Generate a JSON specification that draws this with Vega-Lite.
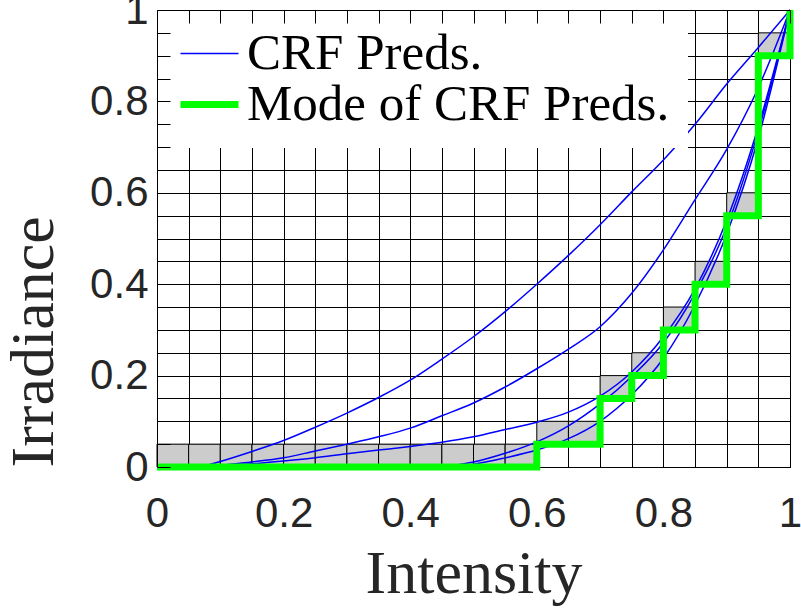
{
  "$schema": "https://vega.github.io/schema/vega-lite/v6.json",
  "width": 633,
  "height": 457,
  "autosize": {"type": "none"},
  "padding": {"left": 157, "top": 10, "right": 11, "bottom": 145},
  "background": "white",
  "config": {"view": {"stroke": null}},
  "datasets": {
    "cells": [
      {"x0": 0, "x1": 0.05, "y0": 0, "y1": 0.05},
      {"x0": 0.05, "x1": 0.1, "y0": 0, "y1": 0.05},
      {"x0": 0.1, "x1": 0.15, "y0": 0, "y1": 0.05},
      {"x0": 0.15, "x1": 0.2, "y0": 0, "y1": 0.05},
      {"x0": 0.2, "x1": 0.25, "y0": 0, "y1": 0.05},
      {"x0": 0.25, "x1": 0.3, "y0": 0, "y1": 0.05},
      {"x0": 0.3, "x1": 0.35, "y0": 0, "y1": 0.05},
      {"x0": 0.35, "x1": 0.4, "y0": 0, "y1": 0.05},
      {"x0": 0.4, "x1": 0.45, "y0": 0, "y1": 0.05},
      {"x0": 0.45, "x1": 0.5, "y0": 0, "y1": 0.05},
      {"x0": 0.5, "x1": 0.55, "y0": 0, "y1": 0.05},
      {"x0": 0.55, "x1": 0.6, "y0": 0, "y1": 0.05},
      {"x0": 0.6, "x1": 0.65, "y0": 0.05, "y1": 0.1},
      {"x0": 0.65, "x1": 0.7, "y0": 0.05, "y1": 0.1},
      {"x0": 0.7, "x1": 0.75, "y0": 0.15, "y1": 0.2},
      {"x0": 0.75, "x1": 0.8, "y0": 0.2, "y1": 0.25},
      {"x0": 0.8, "x1": 0.85, "y0": 0.3, "y1": 0.35},
      {"x0": 0.85, "x1": 0.9, "y0": 0.4, "y1": 0.45},
      {"x0": 0.9, "x1": 0.95, "y0": 0.55, "y1": 0.6},
      {"x0": 0.95, "x1": 1, "y0": 0.9, "y1": 0.95}
    ],
    "curves": [
      {"curve": "a", "series": "CRF Preds.", "x": 0.07, "y": 0},
      {"curve": "a", "series": "CRF Preds.", "x": 0.1, "y": 0.012},
      {"curve": "a", "series": "CRF Preds.", "x": 0.15, "y": 0.034},
      {"curve": "a", "series": "CRF Preds.", "x": 0.2, "y": 0.058},
      {"curve": "a", "series": "CRF Preds.", "x": 0.25, "y": 0.087},
      {"curve": "a", "series": "CRF Preds.", "x": 0.3, "y": 0.118},
      {"curve": "a", "series": "CRF Preds.", "x": 0.35, "y": 0.152},
      {"curve": "a", "series": "CRF Preds.", "x": 0.4, "y": 0.19},
      {"curve": "a", "series": "CRF Preds.", "x": 0.45, "y": 0.236},
      {"curve": "a", "series": "CRF Preds.", "x": 0.5, "y": 0.285},
      {"curve": "a", "series": "CRF Preds.", "x": 0.55, "y": 0.34},
      {"curve": "a", "series": "CRF Preds.", "x": 0.6, "y": 0.4},
      {"curve": "a", "series": "CRF Preds.", "x": 0.65, "y": 0.463},
      {"curve": "a", "series": "CRF Preds.", "x": 0.7, "y": 0.53},
      {"curve": "a", "series": "CRF Preds.", "x": 0.75, "y": 0.602},
      {"curve": "a", "series": "CRF Preds.", "x": 0.8, "y": 0.672},
      {"curve": "a", "series": "CRF Preds.", "x": 0.85, "y": 0.75},
      {"curve": "a", "series": "CRF Preds.", "x": 0.9, "y": 0.838},
      {"curve": "a", "series": "CRF Preds.", "x": 0.95, "y": 0.918},
      {"curve": "a", "series": "CRF Preds.", "x": 1, "y": 1},
      {"curve": "b", "series": "CRF Preds.", "x": 0.07, "y": 0},
      {"curve": "b", "series": "CRF Preds.", "x": 0.1, "y": 0.004},
      {"curve": "b", "series": "CRF Preds.", "x": 0.15, "y": 0.011},
      {"curve": "b", "series": "CRF Preds.", "x": 0.2, "y": 0.02},
      {"curve": "b", "series": "CRF Preds.", "x": 0.25, "y": 0.035},
      {"curve": "b", "series": "CRF Preds.", "x": 0.3, "y": 0.05},
      {"curve": "b", "series": "CRF Preds.", "x": 0.35, "y": 0.066},
      {"curve": "b", "series": "CRF Preds.", "x": 0.4, "y": 0.085},
      {"curve": "b", "series": "CRF Preds.", "x": 0.45, "y": 0.112},
      {"curve": "b", "series": "CRF Preds.", "x": 0.5, "y": 0.14},
      {"curve": "b", "series": "CRF Preds.", "x": 0.55, "y": 0.175},
      {"curve": "b", "series": "CRF Preds.", "x": 0.6, "y": 0.215},
      {"curve": "b", "series": "CRF Preds.", "x": 0.65, "y": 0.258},
      {"curve": "b", "series": "CRF Preds.", "x": 0.7, "y": 0.307},
      {"curve": "b", "series": "CRF Preds.", "x": 0.75, "y": 0.38},
      {"curve": "b", "series": "CRF Preds.", "x": 0.8, "y": 0.475},
      {"curve": "b", "series": "CRF Preds.", "x": 0.85, "y": 0.585},
      {"curve": "b", "series": "CRF Preds.", "x": 0.9, "y": 0.695},
      {"curve": "b", "series": "CRF Preds.", "x": 0.95, "y": 0.83},
      {"curve": "b", "series": "CRF Preds.", "x": 1, "y": 1},
      {"curve": "c", "series": "CRF Preds.", "x": 0.07, "y": 0},
      {"curve": "c", "series": "CRF Preds.", "x": 0.1, "y": 0.003},
      {"curve": "c", "series": "CRF Preds.", "x": 0.15, "y": 0.007},
      {"curve": "c", "series": "CRF Preds.", "x": 0.2, "y": 0.013},
      {"curve": "c", "series": "CRF Preds.", "x": 0.25, "y": 0.02},
      {"curve": "c", "series": "CRF Preds.", "x": 0.3, "y": 0.029},
      {"curve": "c", "series": "CRF Preds.", "x": 0.35, "y": 0.037},
      {"curve": "c", "series": "CRF Preds.", "x": 0.4, "y": 0.045},
      {"curve": "c", "series": "CRF Preds.", "x": 0.45, "y": 0.054},
      {"curve": "c", "series": "CRF Preds.", "x": 0.5, "y": 0.066},
      {"curve": "c", "series": "CRF Preds.", "x": 0.55, "y": 0.082},
      {"curve": "c", "series": "CRF Preds.", "x": 0.6, "y": 0.098},
      {"curve": "c", "series": "CRF Preds.", "x": 0.65, "y": 0.12},
      {"curve": "c", "series": "CRF Preds.", "x": 0.7, "y": 0.155},
      {"curve": "c", "series": "CRF Preds.", "x": 0.75, "y": 0.208},
      {"curve": "c", "series": "CRF Preds.", "x": 0.8, "y": 0.285},
      {"curve": "c", "series": "CRF Preds.", "x": 0.85, "y": 0.39},
      {"curve": "c", "series": "CRF Preds.", "x": 0.9, "y": 0.54},
      {"curve": "c", "series": "CRF Preds.", "x": 0.95, "y": 0.745},
      {"curve": "c", "series": "CRF Preds.", "x": 1, "y": 1},
      {"curve": "d", "series": "CRF Preds.", "x": 0.44, "y": 0},
      {"curve": "d", "series": "CRF Preds.", "x": 0.47, "y": 0.004},
      {"curve": "d", "series": "CRF Preds.", "x": 0.5, "y": 0.011},
      {"curve": "d", "series": "CRF Preds.", "x": 0.55, "y": 0.03},
      {"curve": "d", "series": "CRF Preds.", "x": 0.6, "y": 0.055},
      {"curve": "d", "series": "CRF Preds.", "x": 0.65, "y": 0.09},
      {"curve": "d", "series": "CRF Preds.", "x": 0.7, "y": 0.138},
      {"curve": "d", "series": "CRF Preds.", "x": 0.75, "y": 0.198},
      {"curve": "d", "series": "CRF Preds.", "x": 0.8, "y": 0.272},
      {"curve": "d", "series": "CRF Preds.", "x": 0.85, "y": 0.38},
      {"curve": "d", "series": "CRF Preds.", "x": 0.9, "y": 0.525},
      {"curve": "d", "series": "CRF Preds.", "x": 0.95, "y": 0.735},
      {"curve": "d", "series": "CRF Preds.", "x": 1, "y": 1},
      {"curve": "e", "series": "CRF Preds.", "x": 0.46, "y": 0},
      {"curve": "e", "series": "CRF Preds.", "x": 0.5, "y": 0.006},
      {"curve": "e", "series": "CRF Preds.", "x": 0.55, "y": 0.02},
      {"curve": "e", "series": "CRF Preds.", "x": 0.6, "y": 0.037},
      {"curve": "e", "series": "CRF Preds.", "x": 0.65, "y": 0.062},
      {"curve": "e", "series": "CRF Preds.", "x": 0.7, "y": 0.1},
      {"curve": "e", "series": "CRF Preds.", "x": 0.75, "y": 0.158},
      {"curve": "e", "series": "CRF Preds.", "x": 0.8, "y": 0.238},
      {"curve": "e", "series": "CRF Preds.", "x": 0.85, "y": 0.355},
      {"curve": "e", "series": "CRF Preds.", "x": 0.9, "y": 0.51},
      {"curve": "e", "series": "CRF Preds.", "x": 0.95, "y": 0.72},
      {"curve": "e", "series": "CRF Preds.", "x": 1, "y": 1}
    ],
    "mode": [
      {"series": "Mode of CRF Preds.", "x": 0, "y": 0},
      {"series": "Mode of CRF Preds.", "x": 0.6, "y": 0.05},
      {"series": "Mode of CRF Preds.", "x": 0.7, "y": 0.15},
      {"series": "Mode of CRF Preds.", "x": 0.75, "y": 0.2},
      {"series": "Mode of CRF Preds.", "x": 0.8, "y": 0.3},
      {"series": "Mode of CRF Preds.", "x": 0.85, "y": 0.4},
      {"series": "Mode of CRF Preds.", "x": 0.9, "y": 0.55},
      {"series": "Mode of CRF Preds.", "x": 0.95, "y": 0.9},
      {"series": "Mode of CRF Preds.", "x": 1, "y": 1}
    ]
  },
  "layer": [
    {
      "data": {"name": "cells"},
      "mark": {"type": "rect", "fill": "#cccccc", "stroke": "black", "strokeWidth": 1},
      "encoding": {
        "x": {
          "field": "x0",
          "type": "quantitative",
          "scale": {"domain": [0, 1], "nice": false, "zero": false},
          "axis": {
            "orient": "bottom",
            "values": [0, 0.05, 0.1, 0.15, 0.2, 0.25, 0.3, 0.35, 0.4, 0.45, 0.5, 0.55, 0.6, 0.65, 0.7, 0.75, 0.8, 0.85, 0.9, 0.95, 1],
            "grid": true,
            "gridColor": "black",
            "gridWidth": 1,
            "gridOpacity": 1,
            "domain": true,
            "domainColor": "black",
            "ticks": true,
            "tickSize": -13,
            "tickColor": "black",
            "labelExpr": "indexof(['0','0.2','0.4','0.6','0.8','1'], format(datum.value, '.2~f')) >= 0 ? format(datum.value, '~g') : ''",
            "labelFont": "Liberation Sans",
            "labelFontSize": 42,
            "labelColor": "#262626",
            "labelPadding": 39,
            "labelOverlap": false,
            "labelFlush": false,
            "title": "Intensity",
            "titleFont": "Liberation Serif",
            "titleFontSize": 62,
            "titleFontWeight": "normal",
            "titleColor": "#262626",
            "titlePadding": 9,
            "zindex": 0
          }
        },
        "x2": {"field": "x1"},
        "y": {
          "field": "y0",
          "type": "quantitative",
          "scale": {"domain": [0, 1], "nice": false, "zero": false},
          "axis": {
            "orient": "left",
            "values": [0, 0.05, 0.1, 0.15, 0.2, 0.25, 0.3, 0.35, 0.4, 0.45, 0.5, 0.55, 0.6, 0.65, 0.7, 0.75, 0.8, 0.85, 0.9, 0.95, 1],
            "grid": false,
            "domain": true,
            "domainColor": "black",
            "ticks": true,
            "tickSize": -13,
            "tickColor": "black",
            "labelExpr": "indexof(['0','0.2','0.4','0.6','0.8','1'], format(datum.value, '.2~f')) >= 0 ? format(datum.value, '~g') : ''",
            "labelFont": "Liberation Sans",
            "labelFontSize": 42,
            "labelColor": "#262626",
            "labelPadding": 22,
            "labelOverlap": false,
            "labelFlush": false,
            "title": "Irradiance",
            "titleAnchor": "start",
            "titleFont": "Liberation Serif",
            "titleFontSize": 62,
            "titleFontWeight": "normal",
            "titleColor": "#262626",
            "titlePadding": 24,
            "zindex": 1
          }
        },
        "y2": {"field": "y1"}
      }
    },
    {
      "data": {"name": "curves"},
      "mark": {"type": "line", "strokeWidth": 1.5, "interpolate": "monotone"},
      "encoding": {
        "x": {"field": "x", "type": "quantitative", "axis": null},
        "y": {"field": "y", "type": "quantitative", "axis": null},
        "detail": {"field": "curve"},
        "color": {
          "field": "series",
          "type": "nominal",
          "scale": {"domain": ["CRF Preds.", "Mode of CRF Preds."], "range": ["#0000ff", "#00ff00"]},
          "legend": {
            "orient": "top-left",
            "offset": 0,
            "title": null,
            "fillColor": "white",
            "padding": 18,
            "symbolType": "stroke",
            "symbolSize": 3364,
            "symbolOffset": 9,
            "symbolStrokeWidth": 1.5,
            "rowPadding": -15,
            "labelFont": "Liberation Serif",
            "labelFontSize": 51,
            "labelColor": "black",
            "labelOffset": 12,
            "labelLimit": 700,
            "zindex": 0,
            "encode": {
              "symbols": {
                "update": {
                  "strokeWidth": {"signal": "datum.value === 'Mode of CRF Preds.' ? 7 : 1.5"}
                }
              }
            }
          }
        }
      }
    },
    {
      "data": {"name": "mode"},
      "mark": {"type": "line", "strokeWidth": 7, "interpolate": "step-after", "strokeJoin": "miter"},
      "encoding": {
        "x": {
          "field": "x",
          "type": "quantitative",
          "axis": {
            "orient": "top",
            "values": [0, 0.05, 0.1, 0.15, 0.2, 0.25, 0.3, 0.35, 0.4, 0.45, 0.5, 0.55, 0.6, 0.65, 0.7, 0.75, 0.8, 0.85, 0.9, 0.95, 1],
            "grid": false,
            "labels": false,
            "title": null,
            "domain": true,
            "domainColor": "black",
            "ticks": true,
            "tickSize": -13,
            "tickColor": "black",
            "zindex": 1
          }
        },
        "y": {
          "field": "y",
          "type": "quantitative",
          "axis": {
            "orient": "right",
            "values": [0, 0.05, 0.1, 0.15, 0.2, 0.25, 0.3, 0.35, 0.4, 0.45, 0.5, 0.55, 0.6, 0.65, 0.7, 0.75, 0.8, 0.85, 0.9, 0.95, 1],
            "grid": true,
            "gridColor": "black",
            "gridWidth": 1,
            "gridOpacity": 1,
            "labels": false,
            "title": null,
            "domain": true,
            "domainColor": "black",
            "ticks": true,
            "tickSize": -13,
            "tickColor": "black",
            "zindex": 0
          }
        },
        "color": {"field": "series", "type": "nominal"}
      }
    }
  ],
  "resolve": {"axis": {"x": "independent", "y": "independent"}}
}
